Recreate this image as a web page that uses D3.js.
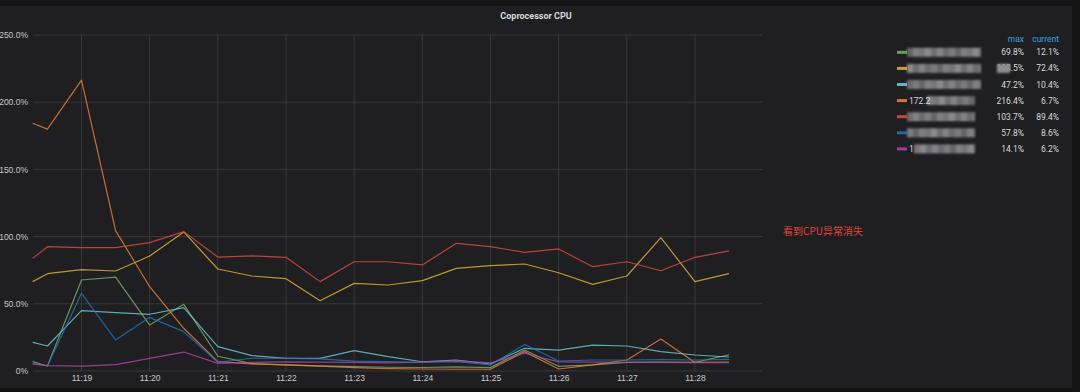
<!DOCTYPE html>
<html><head><meta charset="utf-8">
<script src="https://cdn.jsdelivr.net/npm/d3@7"></script>
<style>
html,body{margin:0;padding:0;background:#141415;}
svg{display:block;font-family:Roboto,"Noto Sans","Noto Sans CJK SC",sans-serif;}
</style></head>
<body>
<svg id="c" width="1080" height="392"></svg>
<script>
// ---- data ----
const times = ["11:18:17","11:18:30","11:19:00","11:19:30","11:20:00","11:20:30","11:21:00","11:21:30","11:22:00","11:22:30","11:23:00","11:23:30","11:24:00","11:24:30","11:25:00","11:25:30","11:26:00","11:26:30","11:27:00","11:27:30","11:28:00","11:28:30"];
const seriesNames = ["s1","s2","s3","172.2","s5","s6","1"];
const seriesColors = ["#7EB26D","#EAB839","#6ED0E0","#EF843C","#E24D42","#1F78C1","#BA43A9"];
const green  = [7.0,3.7,67.7,69.8,34.2,49.6,11.0,5.5,4.5,3.8,3.2,2.8,2.6,3.0,2.5,15.6,3.5,4.5,6.4,6.6,6.4,12.1];
const yellow = [66.5,72.4,75.4,74.4,85.6,103.5,75.9,70.7,68.7,52.3,65.2,64.0,67.2,76.4,78.4,79.6,73.1,64.5,70.7,99.2,66.5,72.4];
const teal   = [21.3,18.6,44.9,43.4,42.2,47.2,18.1,11.4,9.4,9.4,15.1,10.7,6.9,8.2,5.2,16.9,15.6,19.3,18.6,14.4,11.9,10.4];
const orange = [184.3,180.0,216.4,104.4,62.7,31.8,7.0,5.2,4.5,3.7,2.5,1.8,1.5,1.3,1.3,14.4,1.5,4.5,8.2,23.8,6.4,6.7];
const red    = [83.8,92.5,91.8,91.8,95.5,103.7,84.8,85.6,84.6,66.5,81.3,81.3,78.9,95.0,92.5,88.3,90.8,77.6,81.3,74.6,84.6,89.4];
const blue   = [5.7,3.7,57.8,23.1,39.9,29.3,6.5,9.5,9.4,9.0,7.4,7.0,6.5,7.0,4.5,19.8,7.4,8.2,8.2,8.4,8.2,8.6];
const purple = [5.2,4.0,3.7,4.8,9.4,14.1,5.7,6.4,6.8,6.6,6.4,6.0,6.5,7.5,6.0,13.2,6.8,6.6,6.5,6.4,6.2,6.2];
const legendMax = ["69.8%","103.5%","47.2%","216.4%","103.7%","57.8%","14.1%"];
const legendCurrent = ["12.1%","72.4%","10.4%","6.7%","89.4%","8.6%","6.2%"];
const yTicks = [0,50,100,150,200,250];
const xTickLabels = ["11:19","11:20","11:21","11:22","11:23","11:24","11:25","11:26","11:27","11:28"];
const title = "Coprocessor CPU";
const note = "看到CPU异常消失";

const allSeries = [green,yellow,teal,orange,red,blue,purple];
const parseT = s => new Date("2020-01-01T" + s);

const svg = d3.select("#c");
const defs = svg.append("defs");
defs.append("filter").attr("id","blur").attr("x","-10%").attr("y","-50%").attr("width","120%").attr("height","200%")
  .append("feGaussianBlur").attr("stdDeviation",0.9);
defs.append("filter").attr("id","soft")
  .append("feGaussianBlur").attr("stdDeviation",0.35);

// panel
svg.append("rect").attr("x",0).attr("y",6).attr("width",1072).attr("height",382).attr("fill","#1f1f21");

const x = d3.scaleTime().domain([parseT("11:18:17.3"), parseT("11:28:59")]).range([33,762]);
const y = d3.scaleLinear().domain([0,250]).range([371,35]);

// grid
const grid = svg.append("g");
grid.selectAll("line.h").data(yTicks).join("line")
  .attr("x1",33).attr("x2",762).attr("y1",d=>y(d)).attr("y2",d=>y(d))
  .attr("stroke","#38383b").attr("stroke-width",1);
grid.selectAll("line.v").data(xTickLabels).join("line")
  .attr("x1",d=>x(parseT(d))).attr("x2",d=>x(parseT(d))).attr("y1",35).attr("y2",371)
  .attr("stroke","#38383b").attr("stroke-width",1);

// axes
const yAxis = d3.axisLeft(y).tickValues(yTicks).tickSize(0).tickPadding(0)
  .tickFormat(d => d===0 ? "0%" : d.toFixed(1)+"%");
const ya = svg.append("g").attr("transform","translate(28,0)").call(yAxis);
ya.select(".domain").remove();
ya.selectAll("text").attr("fill","#c8c8c8").attr("font-size",8.5).attr("font-weight",500);

const xAxis = d3.axisBottom(x).tickValues(xTickLabels.map(parseT)).tickSize(0).tickPadding(0)
  .tickFormat(d3.timeFormat("%H:%M"));
const xa = svg.append("g").attr("transform","translate(0,375)").call(xAxis);
xa.select(".domain").remove();
xa.selectAll("text").attr("fill","#c8c8c8").attr("font-size",8.5).attr("font-weight",500);

// lines
const line = d3.line().x((d,i)=>x(parseT(times[i]))).y(d=>y(d));
svg.append("g").attr("filter","url(#soft)").selectAll("path").data(allSeries).join("path")
  .attr("d",d=>line(d)).attr("fill","none")
  .attr("stroke",(d,i)=>seriesColors[i]).attr("stroke-width",1.2).attr("stroke-opacity",0.78)
  .attr("stroke-linejoin","round");

// title
svg.append("text").attr("x",536).attr("y",19).attr("text-anchor","middle")
  .attr("fill","#d8d9da").attr("font-size",9).attr("font-weight",700).text(title);

// legend
const lg = svg.append("g");
lg.append("text").attr("x",1024).attr("y",42).attr("text-anchor","end").attr("fill","#33a2e5").attr("font-size",8.5).text("max");
lg.append("text").attr("x",1059).attr("y",42).attr("text-anchor","end").attr("fill","#33a2e5").attr("font-size",8.5).text("current");
const shades = ["#7e7e80","#a0a0a2","#949496","#adadaf","#89898b","#a6a6a8","#858587","#9b9b9d"];
const mosaicEnd = [981,981,981,975,975,975,975];
const mos = lg.append("g").attr("filter","url(#blur)");
seriesNames.forEach((nm,i)=>{
  const cy = 52.3 + i*16.1;
  lg.append("rect").attr("x",897).attr("y",cy-1.5).attr("width",10).attr("height",3).attr("fill",seriesColors[i]).attr("opacity",0.85);
  let start = 907;
  if (nm === "172.2" || nm === "1") {
    lg.append("text").attr("x",909).attr("y",cy+3).attr("fill","#d8d9da").attr("font-size",8.5).text(nm);
    start = nm === "172.2" ? 927 : 914;
  }
  const cw = 6;
  for (let k=0, xx=start; xx<mosaicEnd[i]; k++, xx+=cw) {
    mos.append("rect").attr("x",xx).attr("y",cy-4.5).attr("width",Math.min(cw,mosaicEnd[i]-xx)).attr("height",9)
      .attr("fill",shades[(k+i*3)%shades.length]).attr("opacity",0.75);
  }
  lg.append("text").attr("x",1024).attr("y",cy+3).attr("text-anchor","end").attr("fill","#d8d9da").attr("font-size",8.5).text(legendMax[i]);
  lg.append("text").attr("x",1059).attr("y",cy+3).attr("text-anchor","end").attr("fill","#d8d9da").attr("font-size",8.5).text(legendCurrent[i]);
});
// blurred part of second row max value (drawn above the text)
lg.append("g").attr("filter","url(#blur)").append("rect")
  .attr("x",997).attr("y",52.3+16.1-4.5).attr("width",13).attr("height",9).attr("fill","#8c8c8e");

// annotation
svg.append("text").attr("x",783).attr("y",235).attr("fill","#e0443c").attr("font-size",10)
  .attr("font-family","'Noto Sans CJK SC',sans-serif").text(note);
</script>
</body></html>
